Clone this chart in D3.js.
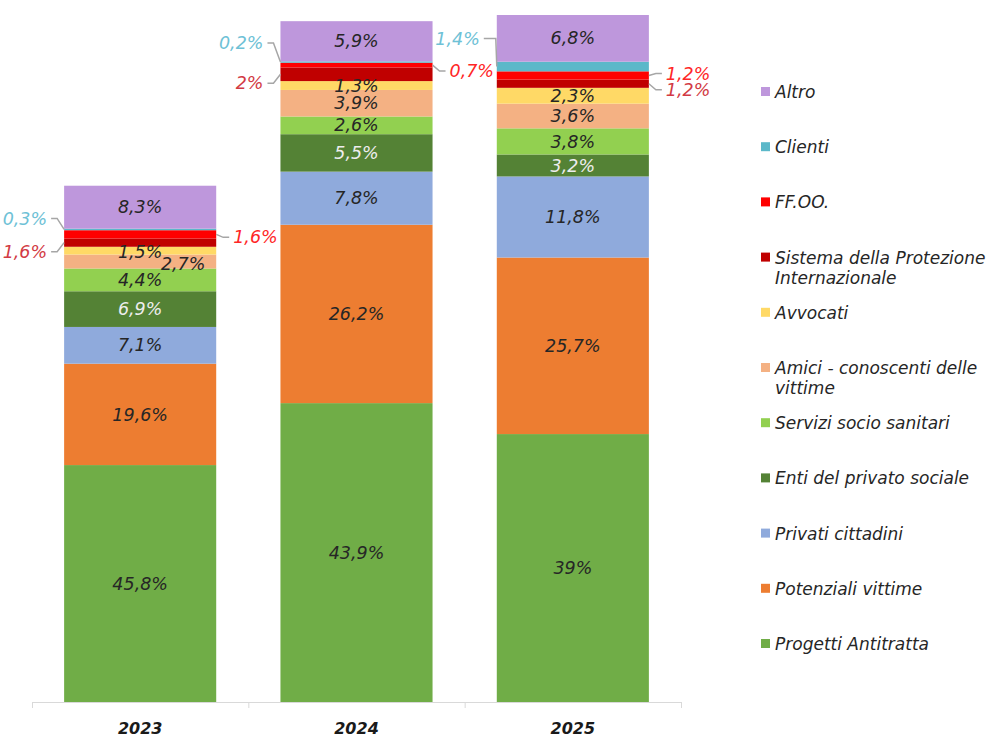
<!DOCTYPE html>
<html>
<head>
<meta charset="utf-8">
<script src="https://cdn.jsdelivr.net/npm/d3@7"></script>
<style>
  body { margin: 0; background: #fff; }
  text { font-family: "DejaVu Sans", Verdana, sans-serif; font-style: italic; }
</style>
</head>
<body>
<div id="chart"></div>
<script>
// Dati (percentuali per anno, dal basso verso l'alto)
const anni = ["2023", "2024", "2025"];
const categorie = [
  "Progetti Antitratta", "Potenziali vittime", "Privati cittadini",
  "Enti del privato sociale", "Servizi socio sanitari",
  "Amici - conoscenti delle vittime", "Avvocati",
  "Sistema della Protezione Internazionale", "FF.OO.", "Clienti", "Altro"
];
const colori = [
  "#70AD47", "#ED7D31", "#8FAADC", "#548235", "#92D050",
  "#F4B183", "#FFD966", "#C00000", "#FF0000", "#5BB8C9", "#BE97DC"
];
const pct2023 = [45.8, 19.6, 7.1, 6.9, 4.4, 2.7, 1.5, 1.6, 1.6, 0.3, 8.3];
const pct2024 = [43.9, 26.2, 7.8, 5.5, 2.6, 3.9, 1.3, 2.0, 0.7, 0.2, 5.9];
const pct2025 = [39.0, 25.7, 11.8, 3.2, 3.8, 3.6, 2.3, 1.2, 1.2, 1.4, 6.8];
// altezza totale delle barre (segnalazioni, stimata dall'immagine)
const totali = [753, 991, 1000];

const pctPerAnno = { "2023": pct2023, "2024": pct2024, "2025": pct2025 };

// etichette esterne con linea di richiamo
const richiami = [
  { anno: "2023", key: "Clienti", side: "left", dy: -11, color: "#6EC1D6" },
  { anno: "2023", key: "Sistema della Protezione Internazionale", side: "left", dy: 9, color: "#D23A44" },
  { anno: "2023", key: "FF.OO.", side: "right", dy: 3, color: "#FF2626" },
  { anno: "2024", key: "Clienti", side: "left", dy: -19, color: "#6EC1D6" },
  { anno: "2024", key: "Sistema della Protezione Internazionale", side: "left", dy: 9, color: "#D23A44" },
  { anno: "2024", key: "FF.OO.", side: "right", dy: 6, color: "#FF2626" },
  { anno: "2025", key: "Clienti", side: "left", dy: -28, color: "#6EC1D6", elbow: 1 },
  { anno: "2025", key: "FF.OO.", side: "right", dy: -2, color: "#FF2626" },
  { anno: "2025", key: "Sistema della Protezione Internazionale", side: "right", dy: 6, color: "#D23A44" }
];
const spostamenti = {
  "2023|Amici - conoscenti delle vittime": { dx: 43, dy: 2 },
  "2023|Avvocati": { dx: 0, dy: 1 }
};

const width = 988, height = 737;
const svg = d3.select("#chart").append("svg")
    .attr("width", width)
    .attr("height", height);

const rows = anni.map((a, i) => {
  const r = { anno: a };
  categorie.forEach((c, j) => r[c] = pctPerAnno[a][j] * totali[i] / 100);
  return r;
});

const x = d3.scaleBand().domain(anni).range([32, 681]).padding(0);
const barW = x.bandwidth() * 0.703;
const barX = d => x(d) + (x.bandwidth() - barW) / 2;
const y = d3.scaleLinear().domain([0, 1000]).range([702, 15]);
const color = d3.scaleOrdinal().domain(categorie).range(colori);

const series = d3.stack().keys(categorie)(rows);

// barre
const layer = svg.selectAll(".layer")
  .data(series)
  .enter().append("g")
    .attr("class", "layer")
    .attr("fill", d => color(d.key));

layer.selectAll("rect")
  .data(d => d.map(p => ({ key: d.key, p })))
  .enter().append("rect")
    .attr("x", d => barX(d.p.data.anno))
    .attr("width", barW)
    .attr("y", d => y(d.p[1]))
    .attr("height", d => y(d.p[0]) - y(d.p[1]));

// asse
svg.append("line")
  .attr("x1", x.range()[0]).attr("x2", x.range()[1])
  .attr("y1", y(0) + 0.5).attr("y2", y(0) + 0.5)
  .attr("stroke", "#D9D9D9");
const tickPos = anni.map(a => x(a)).concat([x.range()[1]]);
svg.selectAll(".tick")
  .data(tickPos)
  .enter().append("line")
    .attr("x1", d => d + 0.5).attr("x2", d => d + 0.5)
    .attr("y1", y(0)).attr("y2", y(0) + 6)
    .attr("stroke", "#D9D9D9");
svg.selectAll(".anno")
  .data(anni)
  .enter().append("text")
    .attr("x", d => x(d) + x.bandwidth() / 2)
    .attr("y", y(0) + 26)
    .attr("dy", "0.35em")
    .attr("text-anchor", "middle")
    .attr("font-size", 16)
    .attr("font-weight", "bold")
    .attr("fill", "#1a1a1a")
    .text(d => d);

const fmt = v => String(v).replace(".", ",") + "%";
const isRichiamo = (a, k) => richiami.some(r => r.anno === a && r.key === k);

// etichette interne
series.forEach((s, j) => {
  s.forEach((p, i) => {
    const a = anni[i];
    if (isRichiamo(a, s.key)) return;
    const off = spostamenti[a + "|" + s.key] || { dx: 0, dy: 0 };
    svg.append("text")
      .attr("x", x(a) + x.bandwidth() / 2 + off.dx)
      .attr("y", (y(p[0]) + y(p[1])) / 2 + off.dy)
      .attr("dy", "0.35em")
      .attr("text-anchor", "middle")
      .attr("font-size", 17.5)
      .attr("fill", s.key === "Enti del privato sociale" ? "#EDEDED" : "#262626")
      .text(fmt(pctPerAnno[a][j]));
  });
});

// etichette esterne
richiami.forEach(r => {
  const j = categorie.indexOf(r.key);
  const i = anni.indexOf(r.anno);
  const p = series[j][i];
  const midY = (y(p[0]) + y(p[1])) / 2;
  const ly = midY + r.dy;
  const left = r.side === "left";
  const edge = left ? barX(r.anno) : barX(r.anno) + barW;
  const s = left ? -1 : 1;
  const el = r.elbow || 7;
  svg.append("path")
    .attr("d", d3.line()([
      [edge + s * 13, ly], [edge + s * el, ly], [edge, midY]
    ]))
    .attr("fill", "none")
    .attr("stroke", "#A6A6A6")
    .attr("stroke-width", 1.5);
  svg.append("text")
    .attr("x", edge + s * 17)
    .attr("y", ly)
    .attr("dy", "0.35em")
    .attr("text-anchor", left ? "end" : "start")
    .attr("font-size", 17.5)
    .attr("fill", r.color)
    .text(fmt(pctPerAnno[r.anno][j]));
});

// legenda
const legenda = svg.append("g");
const voci = categorie.slice().reverse();
voci.forEach((c, i) => {
  const ly = 92 + i * 55.2;
  legenda.append("rect")
    .attr("x", 761).attr("y", ly - 5)
    .attr("width", 9).attr("height", 9)
    .attr("fill", color(c));
  const t = legenda.append("text")
    .attr("x", 775).attr("y", ly)
    .attr("font-size", 17)
    .attr("fill", "#262626");
  // a capo se il testo e' troppo lungo
  const words = c.split(" ");
  let line = [];
  let tspan = t.append("tspan").attr("x", 775).attr("dy", "0.35em");
  words.forEach(w => {
    line.push(w);
    tspan.text(line.join(" "));
    if (tspan.node().getComputedTextLength() > 215 && line.length > 1) {
      line.pop();
      tspan.text(line.join(" "));
      line = [w];
      tspan = t.append("tspan").attr("x", 775).attr("dy", "20px").text(w);
    }
  });
});
</script>
</body>
</html>
